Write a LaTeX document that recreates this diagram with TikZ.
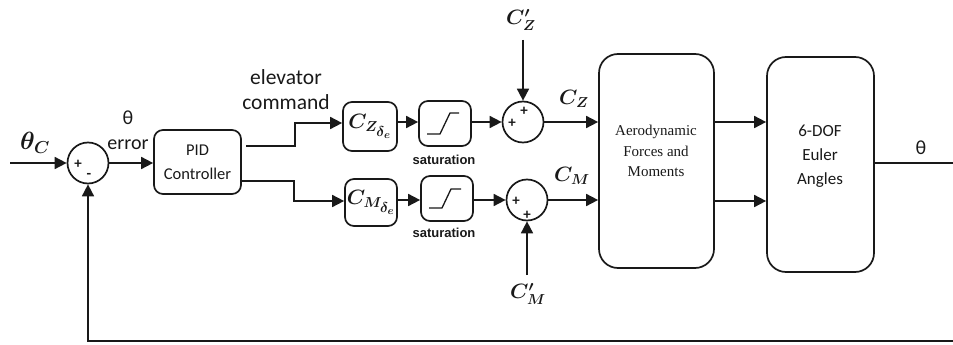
\documentclass[tikz,border=0pt]{standalone}
\usepackage{fontspec}
\setmainfont{Carlito}
\newfontfamily\serifface{Liberation Serif}
\newfontfamily\arialface{Liberation Sans}
\usetikzlibrary{arrows.meta}
\definecolor{ink}{gray}{0.1}
\tikzset{
  wire/.style={draw=ink,line width=1.7pt},
  arrow/.style={wire,-{Triangle[length=12pt,width=12pt]}},
  box/.style={draw=ink,line width=1.7pt,rounded corners=9pt,inner sep=0pt,align=center,text=ink},
  bigbox/.style={box,rounded corners=19pt},
  sum/.style={draw=ink,line width=1.7pt,circle,inner sep=0pt,minimum size=41pt},
  sign/.style={inner sep=0pt,font=\fontsize{15}{15}\selectfont\bfseries,text=ink},
  lab/.style={inner sep=0pt,text=ink,align=center},
  satlab/.style={lab,font=\arialface\fontsize{13}{13}\selectfont\bfseries},
}
\begin{document}
\boldmath
\begin{tikzpicture}[x=1pt,y=-1pt]
\useasboundingbox (0,0) rectangle (953,345);
% blocks
\node[sum] (s1) at (88,163) {};
\node[box,minimum width=87pt,minimum height=64pt,font=\fontsize{16.5}{24}\selectfont] (pid) at (197.5,162) {PID\\Controller};
\node[box,minimum width=54pt,minimum height=49pt,font=\fontsize{22}{22}\selectfont] (cz) at (370,126.5) {$C_{Z_{\scriptstyle\delta_e}}$};
\node[box,minimum width=52pt,minimum height=47pt,font=\fontsize{22}{22}\selectfont] (cm) at (371,202.5) {$C_{M_{\scriptstyle\delta_e}}$};
\node[box,minimum width=52pt,minimum height=45pt] (sat1) at (445,123.5) {};
\node[box,minimum width=52pt,minimum height=45pt] (sat2) at (447,198.5) {};
\node[sum] (s2) at (523,122) {};
\node[sum] (s3) at (527,200) {};
\node[bigbox,minimum width=115pt,minimum height=214pt] (aero) at (656.5,161) {};
\node[bigbox,minimum width=107pt,minimum height=215pt] (dof) at (820.5,164.5) {};
% block texts
\node[lab,font=\serifface\fontsize{15}{20.5}\selectfont] (aerotext) at (656,151) {Aerodynamic\\Forces and\\Moments};
\node[lab,font=\fontsize{17}{24}\selectfont] (doftext) at (820,156) {6-DOF\\Euler\\Angles};
% saturation glyphs
\draw[ink,line width=1.3pt] (427,134) -- (440,134) -- (450,113) -- (459,113);
\draw[ink,line width=1.3pt] (429,208) -- (442,208) -- (451,189) -- (461,189);
\node[satlab] (satl1) at (444,160) {saturation};
\node[satlab] (satl2) at (444,233) {saturation};
% signs
\node[sign] (p1) at (78,164) {+};
\node[sign] (m1) at (89,176) {-};
\node[sign] (p2a) at (524,111) {+};
\node[sign] (p2b) at (512,123) {+};
\node[sign] (p3a) at (516,201) {+};
\node[sign] (p3b) at (527,215) {+};
% free ends
\coordinate (in) at (10,163);
\coordinate (czp) at (523,40);
\coordinate (cmp) at (527,275);
\coordinate (out) at (953,163);
\coordinate (fbr) at (953,341);
\coordinate (pidtop) at (246,146);
% connectors
\draw[arrow] (in) -- (s1.west);
\draw[arrow] (s1.east) -- (pid.west |- s1.east);
\draw[arrow] (pidtop) -- (295,146) -- (295,123) -- (cz.west |- 0,123);
\draw[arrow] (pid.east |- 0,181) -- (294,181) -- (294,201) -- (cm.west |- 0,201);
\draw[arrow] (cz.east |- 0,122) -- (sat1.west |- 0,122);
\draw[arrow] (cm.east |- 0,200) -- (sat2.west |- 0,200);
\draw[arrow] (sat1.east |- s2.west) -- (s2.west);
\draw[arrow] (sat2.east |- s3.west) -- (s3.west);
\draw[arrow] (czp) -- (s2.north);
\draw[arrow] (cmp) -- (s3.south);
\draw[arrow] (s2.east) -- (aero.west |- s2.east);
\draw[arrow] (s3.east) -- (aero.west |- s3.east);
\draw[arrow] (aero.east |- 0,122) -- (dof.west |- 0,122);
\draw[arrow] (aero.east |- 0,201) -- (dof.west |- 0,201);
\draw[wire] (dof.east |- out) -- (out);
\draw[arrow] (fbr) -- (s1 |- fbr) -- (s1.south);
% labels
\node[lab,font=\fontsize{25}{25}\selectfont] (thc) at (35,143) {$\theta_C$};
\node[lab,font=\fontsize{20}{25}\selectfont] (ther) at (128,130) {θ\\error};
\node[lab,font=\fontsize{21.5}{25}\selectfont] (elev) at (286,90) {elevator\\command};
\node[lab,font=\fontsize{21}{21}\selectfont] (czpl) at (521,20) {$C'_Z$};
\node[lab,font=\fontsize{21}{21}\selectfont] (cmpl) at (528,294) {$C'_M$};
\node[lab,font=\fontsize{21}{21}\selectfont] (czl) at (574,99) {$C_Z$};
\node[lab,font=\fontsize{21}{21}\selectfont] (cml) at (572,176) {$C_M$};
\node[lab,font=\fontsize{20}{20}\selectfont] (thl) at (921,148) {θ};
\end{tikzpicture}
\end{document}
